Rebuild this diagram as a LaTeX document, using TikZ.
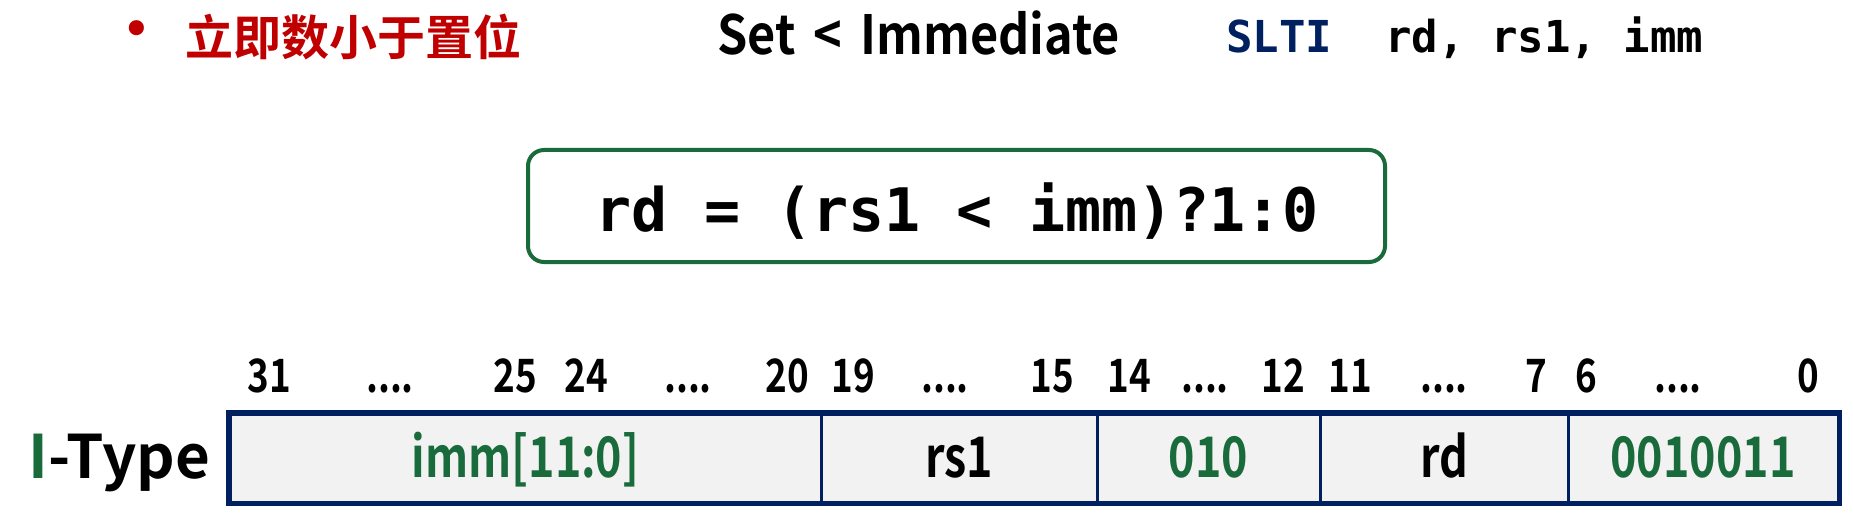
\documentclass[tikz,border=0pt]{standalone}
\usepackage{fontspec}
\newfontfamily\cjkb{Noto Sans CJK SC Bold}
\newfontfamily\condb{Noto Sans CJK SC Bold}[FakeStretch=0.8]
\newfontfamily\setb{Noto Sans CJK SC Bold}[FakeStretch=0.9]
\newfontfamily\monob{DejaVu Sans Mono Bold}
\newfontfamily\dejavu{DejaVu Sans}
\definecolor{tred}{HTML}{C00000}
\definecolor{tnavy}{HTML}{002060}
\definecolor{tgreen}{HTML}{1A6B3C}
\definecolor{tgray}{HTML}{F2F2F2}
\tikzset{
  field/.style={draw=tnavy, line width=3pt, fill=tgray, minimum height=88pt, inner sep=0pt,
    text height=38pt, text depth=0pt, font=\condb\fontsize{56}{66}\selectfont},
  bitnum/.style={anchor=base, inner sep=0pt, font=\condb\fontsize{46}{54}\selectfont},
}
\begin{document}
\begin{tikzpicture}[x=1pt,y=-1pt]
\useasboundingbox (0,0) rectangle (1853,516);
% title line
\node[text=tred, inner sep=0pt, font=\dejavu\fontsize{52}{60}\selectfont] (bul) at (137,34) {•};
\node[text=tred, inner sep=0pt, anchor=west, font=\cjkb\fontsize{48}{58}\selectfont] (title) at (185,37) {立即数小于置位};
\node[inner sep=0pt, anchor=base west, font=\setb\fontsize{54}{64}\selectfont] (setimm) at (717,55) {Set\hspace{7pt} <\hspace{7pt} Immediate};
\node[inner sep=0pt, anchor=base west, font=\monob\fontsize{44}{52}\selectfont] (asm) at (1226,53) {\textcolor{tnavy}{SLTI}\ \ rd,\ rs1,\ imm};
% formula box
\node[draw=tgreen, line width=4pt, rounded corners=16pt, minimum width=857pt, minimum height=112pt,
  inner sep=0pt] (fbox) at (956.5,206) {};
\node[inner sep=0pt, anchor=base, font=\monob\fontsize{60}{70}\selectfont] (formula) at (957,231) {rd = (rs1 < imm)?1:0};
% bit numbers
\node[bitnum] (b31) at (269,392) {31};
\node[bitnum] (d1) at (390,392) {....};
\node[bitnum] (b25) at (515,392) {25};
\node[bitnum] (b24) at (586,392) {24};
\node[bitnum] (d2) at (688,392) {....};
\node[bitnum] (b20) at (787,392) {20};
\node[bitnum] (b19) at (853,392) {19};
\node[bitnum] (d3) at (945,392) {....};
\node[bitnum] (b15) at (1052,392) {15};
\node[bitnum] (b14) at (1129,392) {14};
\node[bitnum] (d4) at (1205,392) {....};
\node[bitnum] (b12) at (1283,392) {12};
\node[bitnum] (b11) at (1350,392) {11};
\node[bitnum] (d5) at (1444,392) {....};
\node[bitnum] (b7) at (1536,392) {7};
\node[bitnum] (b6) at (1586,392) {6};
\node[bitnum] (d6) at (1678,392) {....};
\node[bitnum] (b0) at (1808,392) {0};
% instruction fields
\node[field, minimum width=591pt, text=tgreen] (f1) at (525.5,458) {imm[11:0]};
\node[field, minimum width=276pt] (f2) at (959,458) {rs1};
\node[field, minimum width=223pt, text=tgreen] (f3) at (1208.5,458) {010};
\node[field, minimum width=248pt] (f4) at (1444,458) {rd};
\node[field, minimum width=270pt, text=tgreen] (f5) at (1703,458) {0010011};
\draw[tnavy, line width=4.5pt] (f1.north west) rectangle (f5.south east);
\node[inner sep=0pt, anchor=base west, font=\cjkb\fontsize{60}{70}\selectfont] (itype) at (28,478) {\textcolor{tgreen}{I}-Type};
\end{tikzpicture}
\end{document}
